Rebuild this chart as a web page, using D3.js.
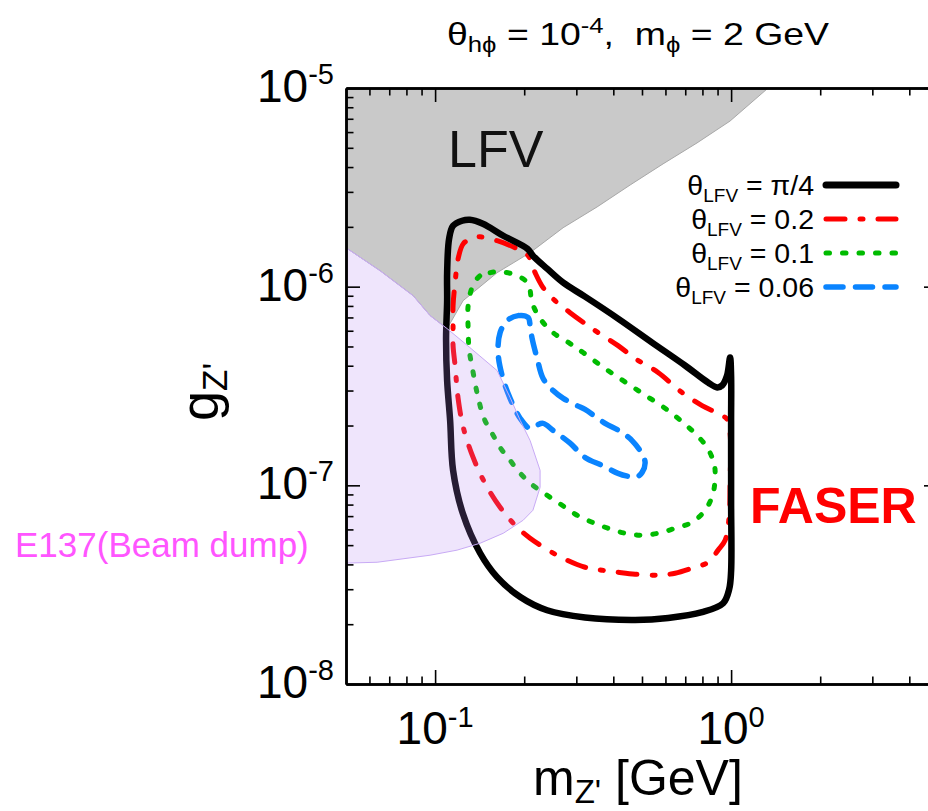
<!DOCTYPE html>
<html><head><meta charset="utf-8">
<script src="https://cdn.jsdelivr.net/npm/d3@7/dist/d3.min.js"></script>
<style>body{margin:0;background:#fff}svg{display:block}</style>
</head><body>
<svg id="c" width="928" height="811"></svg>
<script>
// ---------- data ----------
const xDomain = [0.05, 5];
const yDomain = [1e-8, 1e-5];
const xMajor = [0.1, 1];
const xMajorExp = ["-1", "0"];
const yMajor = [1e-8, 1e-7, 1e-6, 1e-5];
const yMajorExp = ["-8", "-7", "-6", "-5"];
const legendLabels = ["π/4", "0.2", "0.1", "0.06"];

// LFV excluded region (m_Z' [GeV], g_Z')
const lfvRegion = [[0.05,1e-5],[1.334,1e-5],[0.992,6.82e-6],[0.767,5.29e-6],[0.589,4.15e-6],[0.456,3.25e-6],
  [0.3526,2.52e-6],[0.2707,1.98e-6],[0.2094,1.483e-6],[0.162,1.176e-6],[0.1243,8.5e-7],[0.1098,6.15e-7],
  [0.0962,7.15e-7],[0.0843,9.01e-7],[0.0652,1.203e-6],[0.05,1.57e-6]];
// E137 beam dump region
const e137Region = [[0.05,1.57e-6],[0.0652,1.203e-6],[0.0843,9.01e-7],[0.0962,7.15e-7],[0.1098,6.15e-7],
  [0.131,4.94e-7],[0.162,3.78e-7],[0.1792,2.77e-7],[0.194,2.12e-7],[0.2094,1.68e-7],[0.2263,1.19e-7],
  [0.2263,9.77e-8],[0.214,7.49e-8],[0.1983,6.67e-8],[0.170,5.74e-8],[0.1419,5.11e-8],[0.1187,4.72e-8],
  [0.0962,4.45e-8],[0.0637,4.10e-8],[0.05,4.06e-8]];
// FASER sensitivity contours
const curvePi4 = [[0.897,3.11e-7],[0.932,3.18e-7],[0.969,3.57e-7],[0.992,4.40e-7],[1.0,3.57e-7],[1.0,2.12e-7],
  [1.0,8.41e-8],[1.0,3.7e-8],[0.985,3.0e-8],[0.94,2.55e-8],[0.798,2.30e-8],[0.613,2.15e-8],[0.474,2.10e-8],
  [0.321,2.16e-8],[0.239,2.35e-8],[0.194,2.74e-8],[0.162,3.45e-8],[0.142,4.55e-8],[0.124,7.23e-8],[0.115,1.19e-7],
  [0.1124,2.12e-7],[0.1098,3.37e-7],[0.1089,5.48e-7],[0.1098,8.50e-7],[0.1098,1.176e-6],[0.1115,1.742e-6],
  [0.115,2.025e-6],[0.1234,2.147e-6],[0.131,2.172e-6],[0.145,2.074e-6],[0.170,1.804e-6],[0.205,1.552e-6],
  [0.214,1.432e-6],[0.239,1.232e-6],[0.271,1.047e-6],[0.321,8.91e-7],[0.415,6.91e-7],[0.541,5.23e-7],
  [0.699,4.01e-7],[0.836,3.29e-7]];
const curve02 = [[0.1419,1.783e-6],[0.162,1.703e-6],[0.1892,1.552e-6],[0.2062,1.432e-6],[0.2177,1.176e-6],
  [0.2317,9.89e-7],[0.2543,8.50e-7],[0.2858,7.40e-7],[0.321,6.52e-7],[0.3554,5.87e-7],[0.415,5.05e-7],
  [0.474,4.35e-7],[0.5667,3.70e-7],[0.6831,2.93e-7],[0.798,2.52e-7],[0.9039,2.30e-7],[0.969,2.15e-7],
  [0.992,1.826e-7],[0.992,1.023e-7],[0.9846,6.91e-8],[0.9544,5.29e-8],[0.9039,4.72e-8],[0.836,4.10e-8],
  [0.7383,3.83e-8],[0.6469,3.61e-8],[0.5667,3.53e-8],[0.474,3.57e-8],[0.415,3.65e-8],[0.3666,3.74e-8],
  [0.321,3.87e-8],[0.2583,4.45e-8],[0.2094,5.42e-8],[0.1864,6.30e-8],[0.1658,7.75e-8],[0.1475,1.023e-7],
  [0.1344,1.382e-7],[0.1245,1.957e-7],[0.1196,2.74e-7],[0.1168,4.01e-7],[0.115,5.05e-7],[0.115,6.37e-7],
  [0.115,8.03e-7],[0.1168,1.047e-6],[0.1196,1.382e-6],[0.1245,1.645e-6],[0.1344,1.763e-6]];
const curve01 = [[0.1419,1.136e-6],[0.1534,1.176e-6],[0.1658,1.190e-6],[0.1892,1.136e-6],[0.2062,1.035e-6],
  [0.2127,8.31e-7],[0.2263,6.91e-7],[0.2504,5.87e-7],[0.2858,5.17e-7],[0.3162,4.66e-7],[0.3841,3.78e-7],
  [0.4851,3.00e-7],[0.613,2.38e-7],[0.6884,2.07e-7],[0.7555,1.826e-7],[0.8297,1.552e-7],[0.8694,1.335e-7],
  [0.8829,1.19e-7],[0.8694,9.12e-8],[0.8167,7.49e-8],[0.7383,6.52e-8],[0.6469,6.08e-8],[0.5667,5.74e-8],
  [0.5004,5.61e-8],[0.4385,5.74e-8],[0.3841,6.08e-8],[0.3393,6.52e-8],[0.3017,7.07e-8],[0.2686,7.94e-8],
  [0.239,8.91e-8],[0.214,1.0e-7],[0.194,1.149e-7],[0.1792,1.335e-7],[0.1658,1.552e-7],[0.1558,1.826e-7],
  [0.1464,2.17e-7],[0.1397,2.77e-7],[0.1344,3.70e-7],[0.1302,4.88e-7],[0.1293,6.15e-7],[0.1293,8.03e-7],
  [0.1334,9.89e-7]];
const curve006 = [[0.1751,6.75e-7],[0.1907,7.15e-7],[0.2062,6.99e-7],[0.2094,6.37e-7],[0.2127,5.48e-7],
  [0.2212,4.35e-7],[0.2317,3.45e-7],[0.2504,3.00e-7],[0.271,2.74e-7],[0.3017,2.52e-7],[0.321,2.41e-7],
  [0.3753,2.05e-7],[0.4217,1.87e-7],[0.4628,1.68e-7],[0.4966,1.465e-7],[0.5122,1.305e-7],[0.5004,1.162e-7],
  [0.4775,1.097e-7],[0.4488,1.11e-7],[0.415,1.149e-7],[0.3666,1.26e-7],[0.321,1.382e-7],[0.2858,1.63e-7],
  [0.2504,1.89e-7],[0.2317,2.05e-7],[0.2195,2.00e-7],[0.2094,1.93e-7],[0.194,2.17e-7],[0.1792,2.74e-7],
  [0.1684,3.57e-7],[0.1632,4.66e-7],[0.1658,5.87e-7]];

// ---------- drawing ----------
const svg = d3.select("#c");
const L = 346, R = 938, T = 88, B = 684;
const x = d3.scaleLog().domain(xDomain).range([L, R]);
const y = d3.scaleLog().domain(yDomain).range([B, T]);
const FONT = "'Liberation Sans', Arial, Helvetica, sans-serif";

svg.append("defs").append("clipPath").attr("id", "plot")
  .append("rect").attr("x", L).attr("y", T).attr("width", R - L).attr("height", B - T);
const plot = svg.append("g").attr("clip-path", "url(#plot)");

const area = d3.line().x(d => x(d[0])).y(d => y(d[1]));
plot.append("path").attr("d", area(lfvRegion) + "Z")
  .attr("fill", "#c9c9c9").attr("stroke", "#a8a8a8").attr("stroke-width", 1);

const smooth = d3.line().x(d => x(d[0])).y(d => y(d[1])).curve(d3.curveCatmullRomClosed.alpha(0.5));
const series = [
  {data: curve006, color: "#0a84ff", w: 5.5, dash: "17,12.5"},
  {data: curve01, color: "#00bb00", w: 5, dash: "3.5,13"},
  {data: curve02, color: "#ff0000", w: 5, dash: "19,15,3,15"},
  {data: curvePi4, color: "#000000", w: 6.5, dash: null}
];
series.forEach(s => {
  plot.append("path").attr("d", smooth(s.data)).attr("fill", "none")
    .attr("stroke", s.color).attr("stroke-width", s.w)
    .attr("stroke-linecap", "round").attr("stroke-linejoin", "round")
    .attr("stroke-dasharray", s.dash);
});

plot.append("path").attr("d", area(e137Region) + "Z")
  .attr("fill", "rgb(181,130,243)").attr("fill-opacity", 0.21)
  .attr("stroke", "rgb(200,170,245)").attr("stroke-width", 1);

// ---------- axes ----------
const xMinor = x.ticks().filter(v => !xMajor.some(m => Math.abs(m - v) / m < 1e-6) && v > xDomain[0] * 1.0001 && v < xDomain[1] * 0.9999);
const yMinor = y.ticks().filter(v => !yMajor.some(m => Math.abs(m - v) / m < 1e-6));
function styleAxis(g) {
  g.selectAll(".domain").attr("stroke", "#000").attr("stroke-width", 2.5);
  g.selectAll(".tick line").attr("stroke", "#000").attr("stroke-width", 1.6);
  g.selectAll(".tick text").remove();
}
const axes = [
  [d3.axisBottom, x, `translate(0,${B})`, xMajor, xMinor],
  [d3.axisTop, x, `translate(0,${T})`, xMajor, xMinor],
  [d3.axisLeft, y, `translate(${L},0)`, yMajor, yMinor],
  [d3.axisRight, y, `translate(${R},0)`, yMajor, yMinor]
];
axes.forEach(([fn, sc, tr, maj, mnr]) => {
  svg.append("g").attr("transform", tr)
    .call(fn(sc).tickValues(maj).tickSizeInner(-14).tickSizeOuter(0).tickFormat(""))
    .call(styleAxis);
  svg.append("g").attr("transform", tr)
    .call(fn(sc).tickValues(mnr).tickSizeInner(-7.5).tickSizeOuter(0).tickFormat(""))
    .call(styleAxis);
});

// tick labels
xMajor.forEach((v, i) => {
  const t = svg.append("text").attr("x", x(v)).attr("y", 744).attr("text-anchor", "middle")
    .attr("font-family", FONT).attr("font-size", 46).attr("fill", "#000");
  t.append("tspan").text("10");
  t.append("tspan").attr("font-size", 29).attr("dy", -17).text(xMajorExp[i]);
});
yMajor.forEach((v, i) => {
  const t = svg.append("text").attr("x", 334).attr("y", y(v) + 14).attr("text-anchor", "end")
    .attr("font-family", FONT).attr("font-size", 46).attr("fill", "#000");
  t.append("tspan").text("10");
  t.append("tspan").attr("font-size", 29).attr("dy", -18).text(yMajorExp[i]);
});

// axis titles
const xl = svg.append("text").attr("x", 533).attr("y", 795).attr("font-family", FONT)
  .attr("font-size", 50).attr("fill", "#000");
xl.append("tspan").text("m");
xl.append("tspan").attr("font-size", 33).attr("dy", 8).text("Z'");
xl.append("tspan").attr("dy", -8).text(" [GeV]");

const yl = svg.append("text").attr("transform", "translate(218,421) rotate(-90)")
  .attr("font-family", FONT).attr("font-size", 54).attr("fill", "#000");
yl.append("tspan").text("g");
yl.append("tspan").attr("font-size", 35).attr("dy", 9).text("Z'");

// title
const title = svg.append("text").attr("x", 447).attr("y", 45)
  .attr("font-family", "'Liberation Sans Narrow', 'Liberation Sans', Arial, sans-serif")
  .attr("font-size", 32).attr("fill", "#000").style("white-space", "pre");
title.append("tspan").text("θ");
title.append("tspan").attr("font-size", 22).attr("dy", 7).text("hϕ");
title.append("tspan").attr("dy", -7).text(" = 10");
title.append("tspan").attr("font-size", 22).attr("dy", -12).text("-4");
title.append("tspan").attr("dy", 12).text(",  m");
title.append("tspan").attr("font-size", 22).attr("dy", 7).text("ϕ");
title.append("tspan").attr("dy", -7).text(" = 2 GeV");
const tb = title.node().getBBox();
const sx = 383 / tb.width;
title.attr("transform", `translate(447,0) scale(${sx},1) translate(-447,0)`);

// region labels
svg.append("text").attr("x", 448).attr("y", 167).attr("font-family", FONT)
  .attr("font-size", 52).attr("fill", "#111").text("LFV");
svg.append("text").attr("x", 750).attr("y", 523).attr("font-family", FONT)
  .attr("font-size", 50).attr("font-weight", "bold").attr("fill", "#ff0000").text("FASER");
svg.append("text").attr("x", 15).attr("y", 557).attr("font-family", FONT)
  .attr("font-size", 35).attr("fill", "#ff55ff").text("E137(Beam dump)");

// legend
const legY = [185, 219, 253, 287];
const legSeries = [series[3], series[2], series[1], series[0]];
legSeries.forEach((s, i) => {
  svg.append("line").attr("x1", 826).attr("x2", 896).attr("y1", legY[i]).attr("y2", legY[i])
    .attr("stroke", s.color).attr("stroke-width", s.dash ? s.w : 7)
    .attr("stroke-linecap", "round").attr("stroke-dasharray", s.dash);
  const t = svg.append("text").attr("x", 814).attr("y", legY[i] + 10).attr("text-anchor", "end")
    .attr("font-family", FONT).attr("font-size", 28.5).attr("fill", "#000");
  t.append("tspan").text("θ");
  t.append("tspan").attr("font-size", 19).attr("dy", 7).text("LFV");
  t.append("tspan").attr("dy", -7).text(" = " + legendLabels[i]);
});
</script>
</body></html>
